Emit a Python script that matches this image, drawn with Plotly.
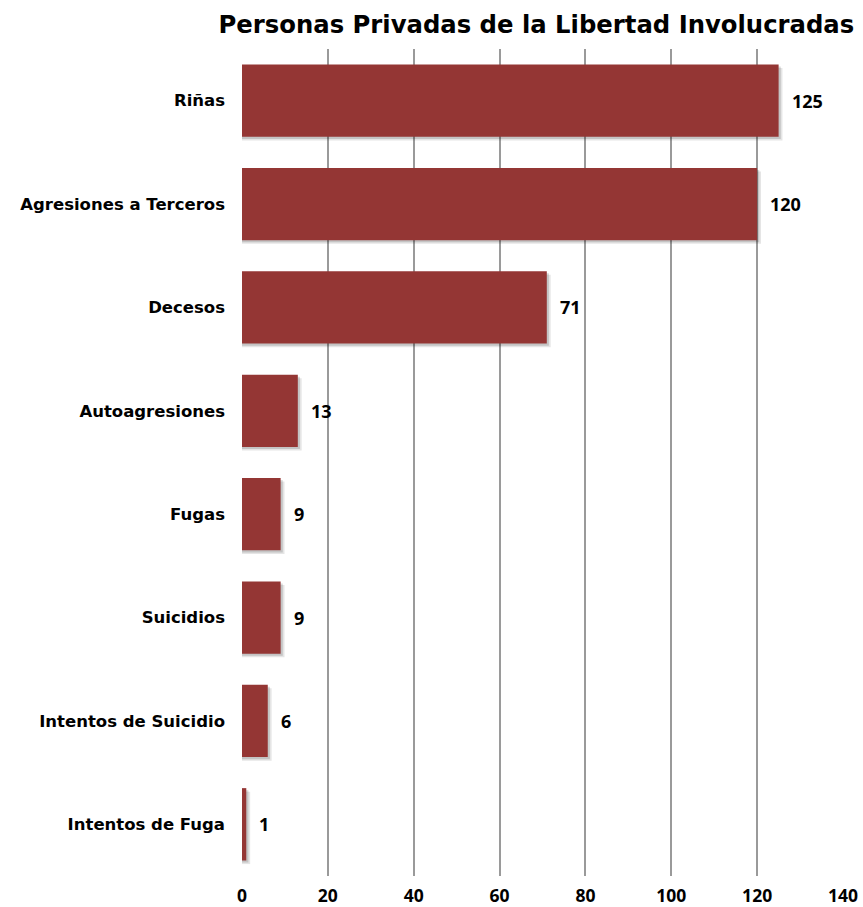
import plotly.graph_objects as go

categories = ["Riñas", "Agresiones a Terceros", "Decesos", "Autoagresiones",
              "Fugas", "Suicidios", "Intentos de Suicidio", "Intentos de Fuga"]
values = [125, 120, 71, 13, 9, 9, 6, 1]
x_ticks = [0, 20, 40, 60, 80, 100, 120, 140]

BAR = "#943634"
FONT = "DejaVu Sans"
NUMFONT = "Open Sans"

fig = go.Figure()

# soft drop shadow layers
for dx, dy, a in [(0.9, 0.035, 0.10), (0.5, 0.02, 0.14)]:
    fig.add_trace(go.Bar(
        y=categories, x=[v + dx for v in values], orientation="h",
        marker=dict(color=f"rgba(0,0,0,{a})", line=dict(width=0)),
        width=0.7, offset=-0.35 + dy, hoverinfo="skip", showlegend=False,
    ))

fig.add_trace(go.Bar(
    y=categories, x=values, orientation="h",
    marker=dict(color=BAR, line=dict(width=0)),
    width=0.7, offset=-0.35, showlegend=False,
))

for c, v in zip(categories, values):
    fig.add_annotation(x=v, y=c, text=f"<b>{v}</b>", showarrow=False,
                       xanchor="left", xshift=11,
                       font=dict(family=NUMFONT, size=18, color="#000"))

fig.update_layout(
    barmode="overlay",
    width=863, height=907,
    margin=dict(l=242, r=20, t=49, b=31, autoexpand=False),
    paper_bgcolor="white", plot_bgcolor="white",
    title=dict(text="<b>Personas Privadas de la Libertad Involucradas</b>",
               x=0.6215, xanchor="center", y=0.9725, yanchor="middle",
               font=dict(family=FONT, size=24.3, color="#000")),
    xaxis=dict(range=[0, 140], tickvals=x_ticks, ticktext=[f"<b>{t}</b>" for t in x_ticks],
               showgrid=True, gridcolor="#9a9a9a", gridwidth=1.5, automargin=False,
               zeroline=False, showline=False, ticks="", ticklabelstandoff=7,
               tickfont=dict(family=NUMFONT, size=17.5, color="#000")),
    yaxis=dict(categoryorder="array", categoryarray=categories, autorange="reversed",
               ticktext=[f"<b>{c}</b>" for c in categories], tickvals=categories,
               showgrid=False, zeroline=False, ticks="", ticklabelstandoff=16,
               automargin=False,
               tickfont=dict(family=FONT, size=16.5, color="#000")),
)

fig.write_html(
    "out.html",
    config={"displayModeBar": False},
    post_script="document.body.style.margin='0';document.documentElement.style.overflow='hidden';",
)
